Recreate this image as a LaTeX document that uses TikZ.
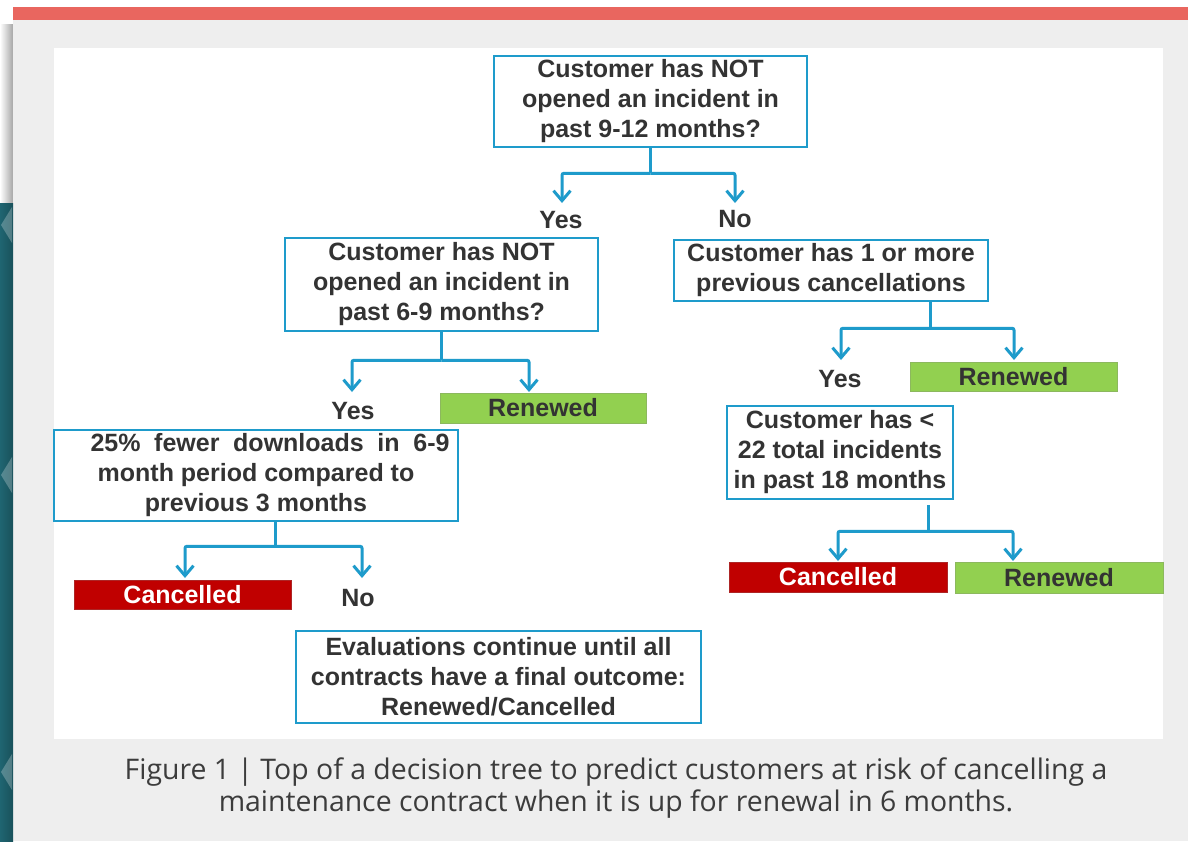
\documentclass[tikz,border=0pt]{standalone}
\usepackage{fontspec}
\setmainfont{Liberation Sans}
\newfontfamily\capfont{Open Sans}
\usetikzlibrary{arrows.meta}
\definecolor{txt}{HTML}{333333}
\definecolor{captxt}{HTML}{3C3C3C}
\definecolor{bord}{HTML}{1E9BCB}
\definecolor{grn}{HTML}{92D050}
\definecolor{rd}{HTML}{C00000}
\definecolor{topbar}{HTML}{E9665F}
\definecolor{panel}{HTML}{EEEEEE}
\definecolor{teal}{HTML}{1F6571}
\tikzset{
  qbox/.style={draw=bord, line width=2.5pt, fill=white, align=center, inner sep=0pt,
    font=\fontsize{25}{30}\selectfont\bfseries, text=txt},
  outbox/.style={draw=#1!70!gray, line width=0.8pt, fill=#1, inner sep=0pt,
    font=\fontsize{25}{28}\selectfont\bfseries},
  lbl/.style={font=\fontsize{25}{28}\selectfont\bfseries, text=txt, inner sep=0pt},
  conn/.style={draw=bord, line width=3pt, rounded corners=2pt,
    -{Straight Barb[length=10pt,width=17pt,line width=3pt]}},
  line/.style={draw=bord, line width=3pt, rounded corners=2pt}
}
\begin{document}
\begin{tikzpicture}[x=1pt,y=-1pt]
\useasboundingbox (0,0) rectangle (1188,841);
\fill[white] (0,0) rectangle (1188,841);
% page decoration
\shade[left color=white, right color=gray!70] (0,24) rectangle (13,203);
\fill[panel] (13,20) rectangle (1188,841);
\fill[topbar] (13,7) rectangle (1188,20);
\shade[left color=teal, right color=teal!80!black] (0,203) rectangle (13,841);
\foreach \yy in {225,475,772} {
  \fill[white, opacity=0.25] (12,\yy-18) -- (1,\yy) -- (12,\yy+18) -- cycle;
}
\fill[white] (54,48) rectangle (1163,739);

% question boxes
\node[qbox, minimum width=313pt, minimum height=91pt] (b1) at (650.5,101.5)
  {Customer has NOT\\opened an incident in\\past 9-12 months?};
\node[qbox, minimum width=313pt, minimum height=93pt] (b2) at (441.5,284.5)
  {Customer has NOT\\opened an incident in\\past 6-9 months?};
\node[qbox, minimum width=314pt, minimum height=61pt] (b3) at (831,270.5)
  {Customer has 1 or more\\previous cancellations};
\node[qbox, minimum width=226pt, minimum height=93pt] (b4) at (840,452.5)
  {Customer has <\\22 total incidents\\in past 18 months};
\node[qbox, minimum width=404pt, minimum height=91pt] (b5) at (256,475.5)
  {\hspace*{28pt}\makebox[359pt][s]{25\% fewer downloads in 6-9}\\month period compared to\\previous 3 months};
\node[qbox, minimum width=405pt, minimum height=92pt] (b6) at (498.5,677)
  {Evaluations continue until all\\contracts have a final outcome:\\Renewed/Cancelled};

% outcome boxes
\node[outbox=grn, text=txt, minimum width=206pt, minimum height=30pt] (g1) at (543,408) {Renewed};
\node[outbox=grn, text=txt, minimum width=207pt, minimum height=29pt] (g2) at (1013.5,376.5) {Renewed};
\node[outbox=rd, text=white, minimum width=218pt, minimum height=30pt] (c2) at (838,577) {Cancelled};
\node[outbox=grn, text=txt, minimum width=208pt, minimum height=31pt] (g3) at (1059,577.5) {Renewed};
\node[outbox=rd, text=white, minimum width=217pt, minimum height=29pt] (c1) at (182.5,594.5) {Cancelled};

% labels
\node[lbl] (y1) at (561,220) {Yes};
\node[lbl] (n1) at (735,219) {No};
\node[lbl] (y2) at (353,411) {Yes};
\node[lbl] (y3) at (840,379) {Yes};
\node[lbl] (n5) at (358,598) {No};

% arrow tips
\coordinate (t1a) at (562,203);
\coordinate (t1b) at (735,203);
\coordinate (t2a) at (352,392);
\coordinate (t2b) at (529,392);
\coordinate (t3a) at (841,360);
\coordinate (t3b) at (1014,360);
\coordinate (t4a) at (838,561);
\coordinate (t4b) at (1013,561);
\coordinate (t5a) at (185,578);
\coordinate (t5b) at (362,578);

% connectors
\draw[line] (b1.south) -- ++(0,25) coordinate (j1);
\draw[conn] (j1) -| (t1a);
\draw[conn] (j1) -| (t1b);
\draw[line] (b2.south) -- ++(0,28) coordinate (j2);
\draw[conn] (j2) -| (t2a);
\draw[conn] (j2) -| (t2b);
\draw[line] ([xshift=99pt]b3.south) -- ++(0,26) coordinate (j3);
\draw[conn] (j3) -| (t3a);
\draw[conn] (j3) -| (t3b);
\draw[line] ([xshift=88pt,yshift=-5pt]b4.south) -- ++(0,26) coordinate (j4);
\draw[conn] (j4) -| (t4a);
\draw[conn] (j4) -| (t4b);
\draw[line] ([xshift=19pt]b5.south) -- ++(0,24) coordinate (j5);
\draw[conn] (j5) -| (t5a);
\draw[conn] (j5) -| (t5b);

% caption
\node[font=\capfont\fontsize{28.4}{32}\selectfont, text=captxt, align=center, inner sep=0pt] (cap) at (616,788.5)
  {Figure 1 | Top of a decision tree to predict customers at risk of cancelling a\\maintenance contract when it is up for renewal in 6 months.};
\end{tikzpicture}
\end{document}
